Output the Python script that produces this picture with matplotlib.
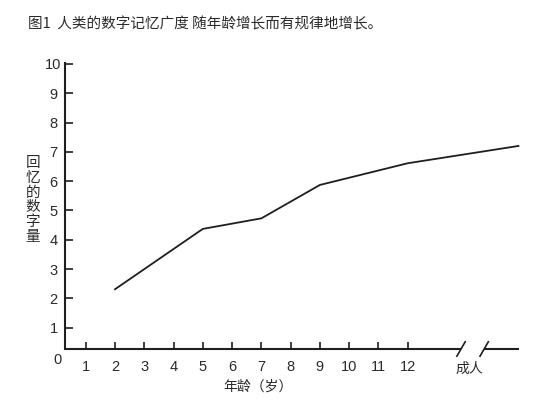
import matplotlib
matplotlib.use("Agg")
import matplotlib.pyplot as plt
import matplotlib.transforms as mtransforms

# ---- data ----
ages = [2, 5, 7, 9, 12]
adult_label = "成人"
span = [2.31, 4.37, 4.73, 5.87, 6.61, 7.2]   # last value = adult
x_ticks = list(range(1, 13))
y_ticks = list(range(1, 11))
title = "图1  人类的数字记忆广度 随年龄增长而有规律地增长。"
xlabel = "年龄（岁）"
ylabel = "回忆的数字量"

# ---- layout constants ----
ADULT_X = 15.78
BREAK1, BREAK2 = 13.82, 14.61
XMIN, XMAX = 0.294, 15.8
YMIN, YMAX = 0.273, 10.03

CJK = ["Noto Sans CJK SC", "DejaVu Sans"]
NUM = ["Liberation Sans", "DejaVu Sans"]
INK = "#1e1e1e"
TXT = "#2a2a2a"

fig = plt.figure(figsize=(5.54, 4.11), dpi=100)
ax = fig.add_axes([65/554, 62/411, 454/554, 286/411])
ax.set_xlim(XMIN, XMAX)
ax.set_ylim(YMIN, YMAX)

xs = ages + [ADULT_X]
ax.plot(xs, span, color=INK, lw=1.3, clip_on=False)

for s in ["top", "right", "bottom"]:
    ax.spines[s].set_visible(False)
ax.spines["left"].set_color(INK)
ax.spines["left"].set_linewidth(1.5)

# broken x axis line
tr = mtransforms.blended_transform_factory(ax.transData, ax.transAxes)
ax.plot([XMIN, BREAK1], [0, 0], color=INK, lw=1.5, transform=tr, clip_on=False,
        solid_capstyle="butt")
ax.plot([BREAK2, XMAX], [0, 0], color=INK, lw=1.5, transform=tr, clip_on=False,
        solid_capstyle="butt")
# slash marks
for bx in (BREAK1, BREAK2):
    t1 = mtransforms.offset_copy(tr, fig=fig, x=-3.0, y=-5.2, units="points")
    t2 = mtransforms.offset_copy(tr, fig=fig, x=3.0, y=5.2, units="points")
    p1 = t1.transform((bx, 0))
    p2 = t2.transform((bx, 0))
    ax.add_line(plt.Line2D([p1[0], p2[0]], [p1[1], p2[1]], transform=None,
                           color=INK, lw=1.2, clip_on=False))

ax.set_xticks(x_ticks)
ax.set_xticklabels([str(v) for v in x_ticks], fontfamily=NUM, fontsize=10.5, color=TXT)
ax.set_yticks(y_ticks)
ax.set_yticklabels([str(v) for v in y_ticks], fontfamily=NUM, fontsize=10.5, color=TXT,
                   ha="center")
ax.tick_params(axis="x", direction="in", length=5.3, width=1.2, color=INK, pad=7.6)
ax.tick_params(axis="y", direction="in", length=5.8, width=1.2, color=INK, pad=8.3)

# origin "0"
ax.text(0.05, -0.1, "0", fontfamily=NUM, fontsize=10.5, color=TXT,
        ha="center", va="center", clip_on=False)

# adult label
ax.text((BREAK1 + BREAK2) / 2 - 0.1, -0.068, adult_label, transform=tr, fontfamily=CJK,
        fontsize=10, color=TXT, ha="center", va="center", clip_on=False)

# axis labels
ax.text(0.425, -0.133, xlabel, transform=ax.transAxes, fontfamily=CJK, fontsize=10,
        color=TXT, ha="center", va="center")
ax.text(-0.0705, 0.521, "\n".join(ylabel), transform=ax.transAxes, fontfamily=CJK,
        fontsize=10.5, color=TXT, ha="center", va="center", linespacing=1.08)

fig.text(28/554, 1 - 24/411, title, fontfamily=CJK, fontsize=10.5, color=TXT,
         fontweight="medium", ha="left", va="center")

fig.savefig("out.png", dpi=100)
